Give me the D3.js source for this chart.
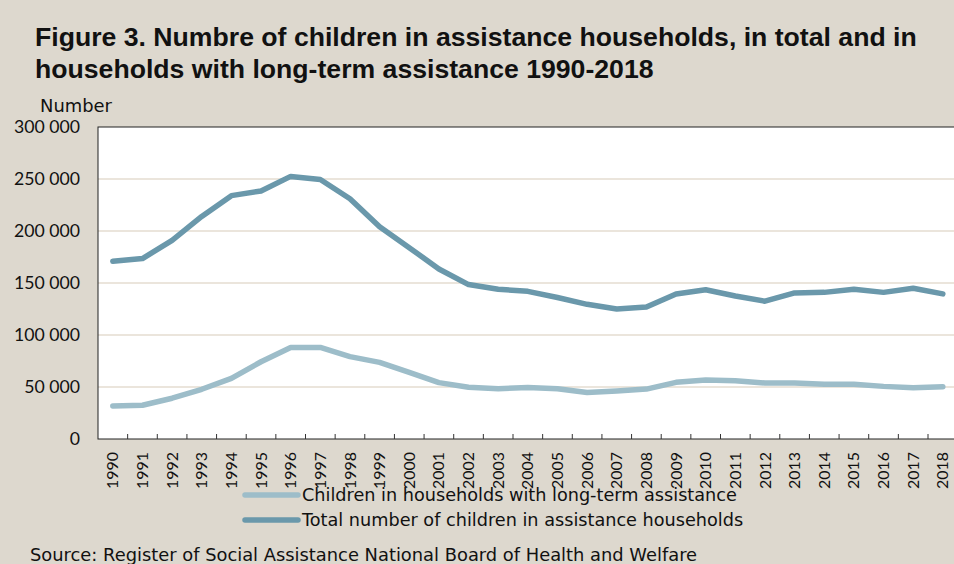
<!DOCTYPE html>
<html><head><meta charset="utf-8">
<script src="https://cdn.jsdelivr.net/npm/d3@7"></script>
<style>
html,body{margin:0;padding:0;background:#ddd8ce;}
svg{display:block;font-family:"DejaVu Sans",sans-serif;}
</style></head>
<body>
<svg id="chart" width="954" height="564"></svg>
<script>
const years = ["1990","1991","1992","1993","1994","1995","1996","1997","1998","1999","2000","2001","2002","2003","2004","2005","2006","2007","2008","2009","2010","2011","2012","2013","2014","2015","2016","2017","2018"];
const totalChildren = [171000,173500,191000,214000,234000,238500,252500,249500,231000,204000,184000,163500,148500,144000,142000,136000,129500,125000,127000,139500,143500,137500,132500,140500,141000,144000,141000,145000,139500];
const longTermChildren = [31800,32500,39200,47800,58300,74300,88000,88000,79200,73700,64100,54200,49700,48400,49500,48400,44700,46200,48000,54500,56700,56100,53800,53800,52600,52600,50600,49300,50300];
const yTicks = [0,50000,100000,150000,200000,250000,300000];
const seriesNames = ["Children in households with long-term assistance","Total number of children in assistance households"];
const titleLines = ["Figure 3. Numbre of children in assistance households, in total and in","households with long-term assistance 1990-2018"];
const yAxisLabel = "Number";
const sourceText = "Source: Register of Social Assistance National Board of Health and Welfare";

const svg = d3.select("#chart");
const W = 954, H = 564;
const m = {left:98, top:127, bottom:439};
const step = (943-113)/28;
const right = m.left + step*years.length;
const colLight = "#9dbdc9", colDark = "#6a98ab", gridCol = "#e4ddd0";
const numFont = "Lato";

svg.append("rect").attr("width",W).attr("height",H).attr("fill","#ddd8ce");

function fit(sel, target){
  const w = sel.node().getComputedTextLength();
  const fs = parseFloat(sel.attr("font-size"));
  sel.attr("font-size", (fs*target/w).toFixed(2));
}

// title
const t1 = svg.append("text").attr("x",35).attr("y",46).attr("font-size",24).attr("font-weight","bold")
  .attr("font-family","Liberation Sans").attr("fill","#111").text(titleLines[0]);
fit(t1, 882);
const t2 = svg.append("text").attr("x",35).attr("y",78).attr("font-size",24).attr("font-weight","bold")
  .attr("font-family","Liberation Sans").attr("fill","#111").text(titleLines[1]);
t2.attr("font-size", t1.attr("font-size"));

const x = d3.scaleBand().domain(years).range([m.left, right]).padding(0);
const y = d3.scaleLinear().domain([0,300000]).range([m.bottom, m.top]);

svg.append("rect").attr("x",m.left).attr("y",m.top).attr("width",right-m.left).attr("height",m.bottom-m.top).attr("fill","#fff");

// gridlines
svg.append("g").selectAll("line").data(yTicks.filter(d=>d>0 && d<300000)).join("line")
  .attr("x1",m.left).attr("x2",right).attr("y1",d=>y(d)).attr("y2",d=>y(d))
  .attr("stroke",gridCol).attr("stroke-width",1.5);

// frame
svg.append("rect").attr("x",m.left).attr("y",m.top).attr("width",right-m.left).attr("height",m.bottom-m.top)
  .attr("fill","none").attr("stroke","#222").attr("stroke-width",1);

// y axis
const yAxis = d3.axisLeft(y).tickValues(yTicks).tickSize(0).tickPadding(18)
  .tickFormat(d=>d3.format(",")(d).replace(/,/g," "));
const gy = svg.append("g").attr("transform",`translate(${m.left},0)`).call(yAxis);
gy.select(".domain").remove();
gy.attr("font-family",null).attr("font-size",null);
const ytexts = gy.selectAll("text").attr("font-size",16).attr("fill","#111").attr("font-family",numFont);
const topLbl = ytexts.filter(d=>d===300000);
fit(topLbl, 66);
ytexts.attr("font-size", topLbl.attr("font-size"));

const nl = svg.append("text").attr("x",40).attr("y",112).attr("font-size",16).attr("fill","#111").text(yAxisLabel);
fit(nl, 72);

// x axis
const xAxis = d3.axisBottom(x).tickSize(0).tickPadding(0);
const gx = svg.append("g").attr("transform",`translate(0,${m.bottom})`).call(xAxis);
gx.select(".domain").remove();
gx.attr("font-family",null).attr("font-size",null);
const xtexts = gx.selectAll(".tick text").attr("font-size",15.5).attr("fill","#111").attr("font-family",numFont)
  .attr("transform","rotate(-90)").attr("text-anchor","end").attr("dy","0.35em").attr("x",-13).attr("y",0);
fit(xtexts.filter((d,i)=>i===0), 37);
xtexts.attr("font-size", xtexts.filter((d,i)=>i===0).attr("font-size"));
// tick marks at band boundaries
svg.append("g").selectAll("line").data(years.slice(1)).join("line")
  .attr("x1",d=>x(d)).attr("x2",d=>x(d)).attr("y1",m.bottom).attr("y2",m.bottom-5)
  .attr("stroke","#333").attr("stroke-width",1);

// lines
const line = d3.line().x((d,i)=>x(years[i])+x.bandwidth()/2).y(d=>y(d));
svg.append("path").datum(longTermChildren).attr("d",line).attr("fill","none")
  .attr("stroke",colLight).attr("stroke-width",5.5).attr("stroke-linecap","round").attr("stroke-linejoin","round");
svg.append("path").datum(totalChildren).attr("d",line).attr("fill","none")
  .attr("stroke",colDark).attr("stroke-width",5.5).attr("stroke-linecap","round").attr("stroke-linejoin","round");

// legend
const legend = svg.append("g");
[[colLight,495],[colDark,520]].forEach(([c,yy],i)=>{
  legend.append("line").attr("x1",245).attr("x2",298).attr("y1",yy).attr("y2",yy)
    .attr("stroke",c).attr("stroke-width",5.5).attr("stroke-linecap","round");
  const lt = legend.append("text").attr("x",302).attr("y",yy).attr("dy","0.35em").attr("font-size",16).attr("fill","#111").text(seriesNames[i]);
  if(i===0) fit(lt, 435);
});
legend.selectAll("text").attr("font-size", legend.select("text").attr("font-size"));

const st = svg.append("text").attr("x",30).attr("y",561).attr("font-size",16).attr("fill","#111").text(sourceText);
fit(st, 668);
</script>
</body></html>
